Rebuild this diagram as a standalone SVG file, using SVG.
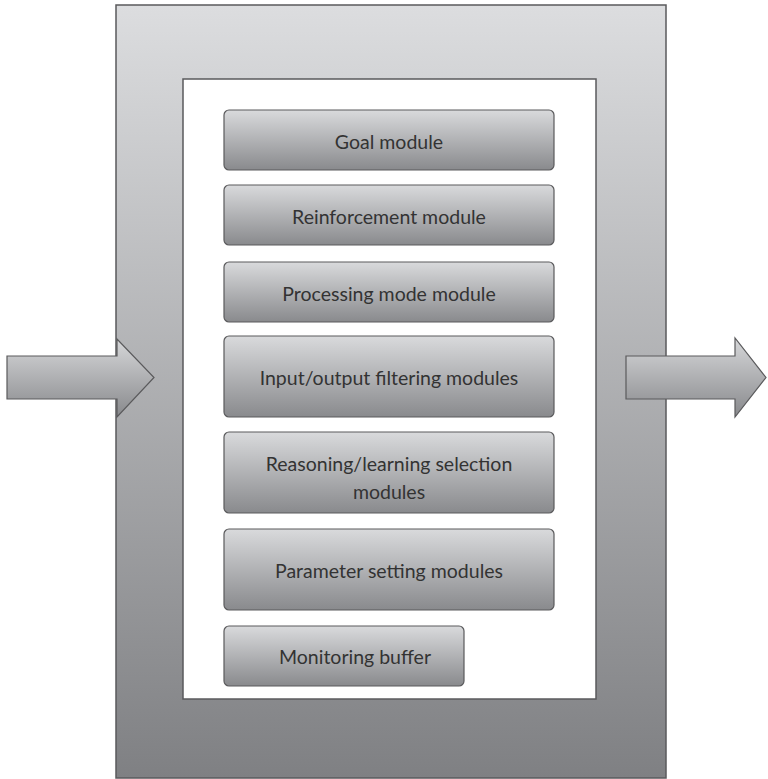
<svg xmlns="http://www.w3.org/2000/svg" width="768" height="779" viewBox="0 0 768 779">
<defs>
<linearGradient id="gFrame" x1="0" y1="0" x2="0" y2="1">
<stop offset="0" stop-color="#dcdddf"/>
<stop offset="1" stop-color="#7f8083"/>
</linearGradient>
<linearGradient id="gBox" x1="0" y1="0" x2="0" y2="1">
<stop offset="0" stop-color="#d9dadc"/>
<stop offset="1" stop-color="#898a8d"/>
</linearGradient>
<linearGradient id="gArrow" x1="0" y1="0" x2="0" y2="1">
<stop offset="0" stop-color="#d6d7d9"/>
<stop offset="1" stop-color="#88898c"/>
</linearGradient>
</defs>
<style>
.frame{fill:url(#gFrame);stroke:#5a5a5c;stroke-width:1.5}
.inner{fill:#ffffff;stroke:#5a5a5c;stroke-width:1.5}
.box{fill:url(#gBox);stroke:#5a5a5c;stroke-width:1.2}
.arrow{fill:url(#gArrow);stroke:#5a5a5c;stroke-width:1.2;stroke-linejoin:miter}
.lbl{font-family:"Lato","Open Sans","Liberation Sans",sans-serif;font-size:19.5px;fill:#333333;text-anchor:middle;dominant-baseline:central}
</style>
<g id="frame">
<rect class="frame" x="116" y="5" width="550" height="773"/>
<rect class="inner" x="183" y="79" width="413" height="620"/>
</g>
<g id="connectors">
<path id="arrow-in" class="arrow" d="M7,356 L117,356 L117,339 L154,377.5 L117,417 L117,399 L7,399 Z"/>
<path id="arrow-out" class="arrow" d="M626,356 L735,356 L735,338 L766,377.5 L735,417 L735,399 L626,399 Z"/>
</g>
<g id="goal">
<rect class="box" x="224" y="110" width="330" height="60" rx="5"/>
<text class="lbl" x="389" y="141">Goal module</text>
</g>
<g id="reinforcement">
<rect class="box" x="224" y="185" width="330" height="60" rx="5"/>
<text class="lbl" x="389" y="216">Reinforcement module</text>
</g>
<g id="processing">
<rect class="box" x="224" y="262" width="330" height="60" rx="5"/>
<text class="lbl" x="389" y="293">Processing mode module</text>
</g>
<g id="io-filtering">
<rect class="box" x="224" y="336" width="330" height="81" rx="5"/>
<text class="lbl" x="389" y="377">Input/output filtering modules</text>
</g>
<g id="reasoning">
<rect class="box" x="224" y="432" width="330" height="81" rx="5"/>
<text class="lbl" x="389" y="463">Reasoning/learning selection</text>
<text class="lbl" x="389" y="491">modules</text>
</g>
<g id="parameter">
<rect class="box" x="224" y="529" width="330" height="81" rx="5"/>
<text class="lbl" x="389" y="570">Parameter setting modules</text>
</g>
<g id="monitoring">
<rect class="box" x="224" y="626" width="240" height="60" rx="5"/>
<text class="lbl" x="355" y="656">Monitoring buffer</text>
</g>
</svg>
